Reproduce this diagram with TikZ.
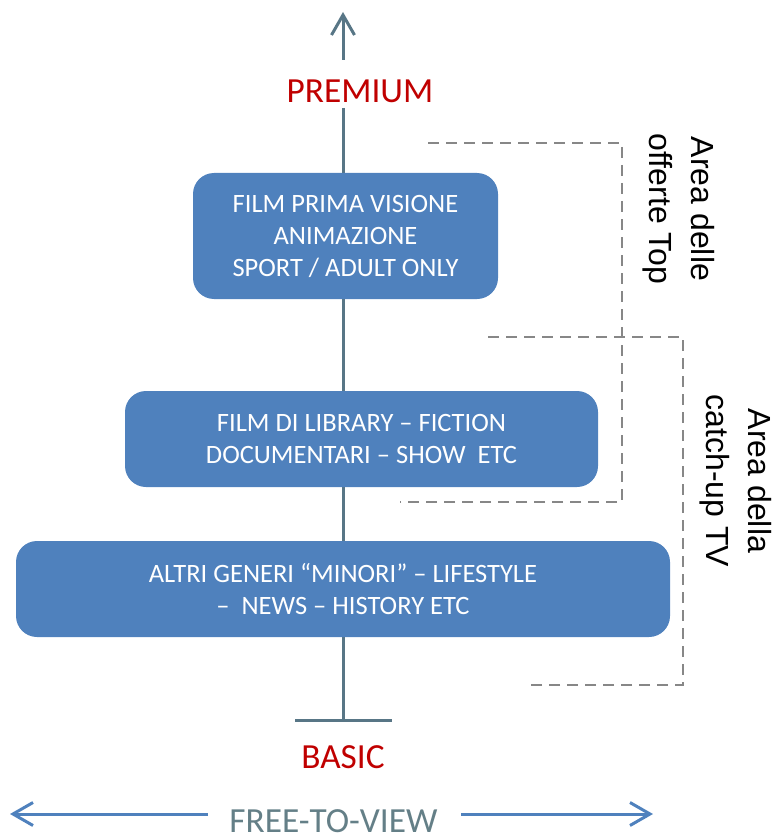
\documentclass[tikz,border=0pt]{standalone}
\usepackage{fontspec}
\setmainfont{Carlito}
\newfontfamily\arialf{Liberation Sans}
\usetikzlibrary{arrows.meta}
\definecolor{boxblue}{HTML}{4F81BD}
\definecolor{axisgray}{HTML}{587686}
\definecolor{dashgray}{HTML}{878787}
\definecolor{premred}{HTML}{C00000}
\definecolor{freegray}{HTML}{647F87}
\tikzset{
  tierbox/.style={draw=none, fill=boxblue, rounded corners=21pt, text=white,
    align=center, font=\fontsize{26.5}{32}\selectfont, inner sep=0pt},
  axisline/.style={draw=axisgray, line width=3pt},
  areadash/.style={draw=dashgray, line width=2.6pt, dash pattern=on 11pt off 7pt},
  levellabel/.style={text=premred, font=\fontsize{35.3}{40}\selectfont, inner sep=0pt, anchor=base},
  arealabel/.style={rotate=-90, align=center, inner sep=0pt,
    font=\arialf\fontsize{32}{42}\selectfont},
  barb/.style={-{Straight Barb[length=20pt,width=23pt,line width=3pt]}},
}
\begin{document}
\begin{tikzpicture}[x=1pt,y=-1pt]
\useasboundingbox (0,0) rectangle (775,834);
% axis
\coordinate (arrstart) at (343,60);
\coordinate (arrtip) at (343,12);
\coordinate (axtop) at (343,108);
\coordinate (axbot) at (343,720);
\coordinate (barL) at (295,720);
\coordinate (barR) at (392,720);
\draw[axisline, barb] (arrstart) -- (arrtip);
\draw[axisline] (axtop) -- (axbot);
\draw[axisline] (barL) -- (barR);
% labels
\node[levellabel] (premium) at (360,103) {PREMIUM};
\node[levellabel] (basic) at (343,768) {BASIC};
% boxes
\node[tierbox, minimum width=305pt, minimum height=126pt] (top) at (345.5,236)
  {FILM PRIMA VISIONE\\ANIMAZIONE\\SPORT / ADULT ONLY};
\node[tierbox, minimum width=473pt, minimum height=96pt] (mid) at (361.5,439)
  {FILM DI LIBRARY -- FICTION\\DOCUMENTARI -- SHOW\ \ ETC};
\node[tierbox, minimum width=654pt, minimum height=96pt] (low) at (343,589)
  {ALTRI GENERI “MINORI” -- LIFESTYLE\\--\ \ NEWS -- HISTORY ETC};
% dashed brackets
\coordinate (d1a) at (428,143);
\coordinate (d1b) at (622,502);
\coordinate (d1c) at (400,502);
\draw[areadash] (d1a) -| (d1b) -- (d1c);
\coordinate (d2a) at (488,337);
\coordinate (d2b) at (683,685);
\coordinate (d2c) at (528,685);
\draw[areadash] (d2a) -| (d2b) -- (d2c);
\node[arealabel] (area1) at (679,209) {Area delle\\offerte Top};
\node[arealabel] (area2) at (735.5,481) {Area della\\catch-up TV};
% bottom
\node[text=freegray, font=\fontsize{35.3}{40}\selectfont, inner sep=0pt, anchor=base] (free) at (333.5,832) {FREE-TO-VIEW};
\coordinate (lstart) at (208,814);
\coordinate (ltip) at (10,814);
\coordinate (rstart) at (461,814);
\coordinate (rtip) at (653,814);
\draw[draw=boxblue, line width=3pt, barb] (lstart) -- (ltip);
\draw[draw=boxblue, line width=3pt, barb] (rstart) -- (rtip);
\end{tikzpicture}
\end{document}
